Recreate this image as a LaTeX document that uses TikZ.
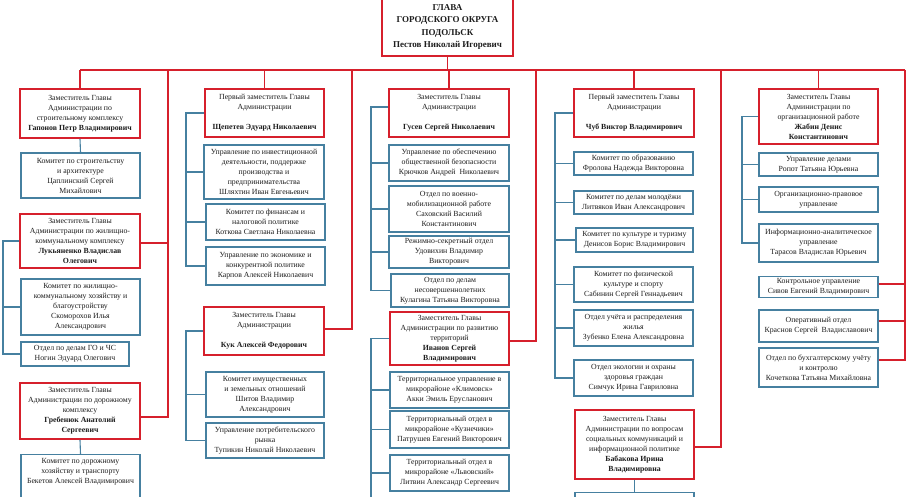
\documentclass[tikz,border=0pt]{standalone}
\usepackage{fontspec}
\setmainfont{Liberation Serif}
\definecolor{cred}{RGB}{214,32,44}
\definecolor{cblue}{RGB}{70,128,160}
\definecolor{txt}{RGB}{30,30,30}
\tikzset{
  every node/.style={font=\fontsize{7.8}{10}\selectfont},
  rbox/.style={draw=cred, line width=1.8pt, fill=white, align=center, inner sep=0pt, text=txt},
  bbox/.style={draw=cblue, line width=1.2pt, fill=white, align=center, inner sep=0pt, text=txt},
  wh/.style 2 args={minimum width=#1pt, minimum height=#2pt},
  rline/.style={draw=cred, line width=1.8pt},
  bline/.style={draw=cblue, line width=1.1pt},
}
\begin{document}
\begin{tikzpicture}[x=1pt,y=-1pt]
\useasboundingbox (0,0) rectangle (908,497);
\clip (0,0) rectangle (908,497);
\fill[white] (0,0) rectangle (908,497);

% head
\node[rbox, wh={131}{58}, font=\fontsize{9}{12.3}\selectfont\bfseries] (head) at (447.5,27)
  {ГЛАВА\\ГОРОДСКОГО ОКРУГА\\ПОДОЛЬСК\\Пестов Николай Игоревич};

% column 1
\node[rbox, wh={120}{49}] (gap) at (80,113.5) {Заместитель Главы\\Администрации по\\строительному комплексу\\\textbf{Гапонов Петр Владимирович}};
\node[bbox, wh={119}{45}] (cstr) at (80.5,175.5) {Комитет по строительству\\и архитектуре\\Цаплинский Сергей\\Михайлович};
\node[rbox, wh={120}{54}] (luk) at (80,241) {Заместитель Главы\\Администрации по жилищно-\\коммунальному комплексу\\\textbf{Лукьяненко Владислав}\\\textbf{Олегович}};
\node[bbox, wh={119}{56}] (cgkh) at (80.5,307) {Комитет по жилищно-\\коммунальному хозяйству и\\благоустройству\\Скоморохов Илья\\Александрович};
\node[bbox, wh={108}{24}] (cgo) at (75,354) {Отдел по делам ГО и ЧС\\Ногин Эдуард Олегович};
\node[rbox, wh={120}{56}] (greb) at (80,411) {Заместитель Главы\\Администрации по дорожному\\комплексу\\\textbf{Гребенюк Анатолий}\\\textbf{Сергеевич}};
\node[bbox, minimum width=119pt, anchor=north, inner ysep=4pt] (cdor) at (80.5,454) {Комитет по дорожному\\хозяйству и транспорту\\Бекетов Алексей Владимирович\rule[-30pt]{0pt}{0pt}};

% column 2
\node[rbox, wh={119}{48}] (shch) at (264.5,113) {Первый заместитель Главы\\Администрации\\[10pt]\textbf{Щепетев Эдуард Николаевич}};
\node[bbox, wh={120}{54}] (uinv) at (264,172) {Управление по инвестиционной\\деятельности, поддержке\\производства и\\предпринимательства\\Шляхтин Иван Евгеньевич};
\node[bbox, wh={119}{36}] (cfin) at (265.5,222) {Комитет по финансам и\\налоговой политике\\Коткова Светлана Николаевна};
\node[bbox, wh={119}{38}] (uecon) at (265.5,266) {Управление по экономике и\\конкурентной политике\\Карпов Алексей Николаевич};
\node[rbox, wh={120}{48}] (kuk) at (264,331) {Заместитель Главы\\Администрации\\[10pt]\textbf{Кук Алексей Федорович}};
\node[bbox, wh={118}{45}] (cim) at (265,394.5) {Комитет имущественных\\и земельных отношений\\Шитов Владимир\\Александрович};
\node[bbox, wh={118}{35}] (upotr) at (265,440.5) {Управление потребительского\\рынка\\Тупикин Николай Николаевич};

% column 3
\node[rbox, wh={120}{48}] (gus) at (449,113) {Заместитель Главы\\Администрации\\[10pt]\textbf{Гусев Сергей Николаевич}};
\node[bbox, wh={120}{36}] (uobesp) at (449,163) {Управление по обеспечению\\общественной безопасности\\Крючков Андрей\ \ Николаевич};
\node[bbox, wh={120}{46}] (ovoen) at (449,209) {Отдел по военно-\\мобилизационной работе\\Саховский Василий\\Константинович};
\node[bbox, wh={120}{32}] (rezh) at (449,252) {Режимно-секретный отдел\\Удовихин Владимир\\Викторович};
\node[bbox, wh={118}{33}] (onesov) at (450,290.5) {Отдел по делам\\несовершеннолетних\\Кулагина Татьяна Викторовна};
\node[rbox, wh={119}{53}] (ivan) at (449.5,338.5) {Заместитель Главы\\Администрации по развитию\\территорий\\\textbf{Иванов Сергей}\\\textbf{Владимирович}};
\node[bbox, wh={119}{36}] (tklim) at (449.5,390) {Территориальное управление в\\микрорайоне «Климовск»\\Акки Эмиль Ерусланович};
\node[bbox, wh={119}{37}] (tkuz) at (449.5,429.5) {Территориальный отдел в\\микрорайоне «Кузнечики»\\Патрушев Евгений Викторович};
\node[bbox, wh={119}{36}] (tlvov) at (449.5,473) {Территориальный отдел в\\микрорайоне «Львовский»\\Литвин Александр Сергеевич};

% column 4
\node[rbox, wh={120}{48}] (chub) at (634,113) {Первый заместитель Главы\\Администрации\\[10pt]\textbf{Чуб Виктор Владимирович}};
\node[bbox, wh={119}{23}] (cobr) at (633.5,163.5) {Комитет по образованию\\Фролова Надежда Викторовна};
\node[bbox, wh={119}{23}] (cmol) at (633.5,202.5) {Комитет по делам молодёжи\\Литвяков Иван Александрович};
\node[bbox, wh={117}{24}] (ckult) at (634.5,240) {Комитет по культуре и туризму\\Денисов Борис Владимирович};
\node[bbox, wh={119}{35}] (cfiz) at (633.5,284.5) {Комитет по физической\\культуре и спорту\\Сабинин Сергей Геннадьевич};
\node[bbox, wh={119}{36}] (ouch) at (633.5,328) {Отдел учёта и распределения\\жилья\\Зубенко Елена Александровна};
\node[bbox, wh={119}{36}] (oekol) at (633.5,378) {Отдел экологии и охраны\\здоровья граждан\\Симчук Ирина Гавриловна};
\node[rbox, wh={119}{69}] (bab) at (634.5,444.5) {Заместитель Главы\\Администрации по вопросам\\социальных коммуникаций и\\информационной политике\\\textbf{Бабакова Ирина}\\\textbf{Владимировна}};
\node[bbox, wh={119}{30}, anchor=north] (babc) at (634.5,492) {};

% column 5
\node[rbox, wh={119}{55}] (zhab) at (818.5,116.5) {Заместитель Главы\\Администрации по\\организационной работе\\\textbf{Жабин Денис}\\\textbf{Константинович}};
\node[bbox, wh={119}{23}] (udel) at (818.5,164.5) {Управление делами\\Ропот Татьяна Юрьевна};
\node[bbox, wh={119}{25}] (orgpr) at (818.5,199.5) {Организационно-правовое\\управление};
\node[bbox, wh={119}{38}] (infan) at (818.5,243) {Информационно-аналитическое\\управление\\Тарасов Владислав Юрьевич};
\node[bbox, wh={119}{21}] (kontr) at (818.5,287) {Контрольное управление\\Сивов Евгений Владимирович};
\node[bbox, wh={119}{32}] (oper) at (818.5,326) {Оперативный отдел\\Краснов Сергей\ \ Владиславович};
\node[bbox, wh={119}{39}] (obuh) at (818.5,367.5) {Отдел по бухгалтерскому учёту\\и контролю\\Кочеткова Татьяна Михайловна};

% red connectors
\coordinate (busL) at (80,70);
\coordinate (busR) at (905,70);
\coordinate (d2) at (168,70);
\coordinate (d4) at (352,70);
\coordinate (d6) at (536,70);
\coordinate (d8) at (721,70);
\draw[rline] (head.south) -- (head.south |- busL);
\draw[rline] (busL) -- (busR);
\draw[rline] (gap.north |- busL) -- (gap.north);
\draw[rline] (d2) |- ([yshift=-6pt]greb.east);
\draw[rline] ([yshift=-2pt]luk.east) -- ([yshift=-2pt]luk.east -| d2);
\draw[rline] (shch.north |- busL) -- (shch.north);
\draw[rline] (d4) |- ([yshift=2pt]kuk.east);
\draw[rline] (gus.north |- busL) -- (gus.north);
\draw[rline] (d6) |- ([yshift=-2.5pt]ivan.east);
\draw[rline] (chub.north |- busL) -- (chub.north);
\draw[rline] (d8) |- ([yshift=-2.5pt]bab.east);
\draw[rline] (zhab.north |- busL) -- (zhab.north);
\draw[rline] (busR) |- ([yshift=7.5pt]obuh.east);
\draw[rline] ([yshift=3pt]kontr.east) -- ([yshift=3pt]kontr.east -| busR);
\draw[rline] ([yshift=5pt]oper.east) -- ([yshift=5pt]oper.east -| busR);

% blue connectors
\coordinate (b1) at (3,0);
\coordinate (b2) at (186,0);
\coordinate (b3) at (371,0);
\coordinate (b4) at (555,0);
\coordinate (b5) at (742,0);
\coordinate (ivend) at (371,505);
\draw[bline] (gap.south) -- (cstr.north);
\draw[bline] (luk.west) -- (luk.west -| b1) |- (cgo.west);
\draw[bline] (cgkh.west -| b1) -- (cgkh.west);
\draw[bline] (greb.south) -- (cdor.north);

\draw[bline] (shch.west) -- (shch.west -| b2) |- (uecon.west);
\draw[bline] (uinv.west -| b2) -- (uinv.west);
\draw[bline] (cfin.west -| b2) -- (cfin.west);
\draw[bline] (kuk.west) -- (kuk.west -| b2) |- (upotr.west);
\draw[bline] (cim.west -| b2) -- (cim.west);

\draw[bline] ([yshift=6pt]gus.west) -- ([yshift=6pt]gus.west -| b3) |- (onesov.west);
\draw[bline] (uobesp.west -| b3) -- (uobesp.west);
\draw[bline] (ovoen.west -| b3) -- (ovoen.west);
\draw[bline] (rezh.west -| b3) -- (rezh.west);
\draw[bline] (ivan.west) -- (ivan.west -| b3) -- (ivend);
\draw[bline] (tklim.west -| b3) -- (tklim.west);
\draw[bline] (tkuz.west -| b3) -- (tkuz.west);
\draw[bline] (tlvov.west -| b3) -- (tlvov.west);

\draw[bline] (chub.west) -- (chub.west -| b4) |- (oekol.west);
\draw[bline] (cobr.west -| b4) -- (cobr.west);
\draw[bline] (cmol.west -| b4) -- (cmol.west);
\draw[bline] (ckult.west -| b4) -- (ckult.west);
\draw[bline] (cfiz.west -| b4) -- (cfiz.west);
\draw[bline] (ouch.west -| b4) -- (ouch.west);
\draw[bline] (bab.south) -- (babc.north);

\draw[bline] (zhab.west) -- (zhab.west -| b5) |- (infan.west);
\draw[bline] (udel.west -| b5) -- (udel.west);
\draw[bline] (orgpr.west -| b5) -- (orgpr.west);
\end{tikzpicture}
\end{document}
